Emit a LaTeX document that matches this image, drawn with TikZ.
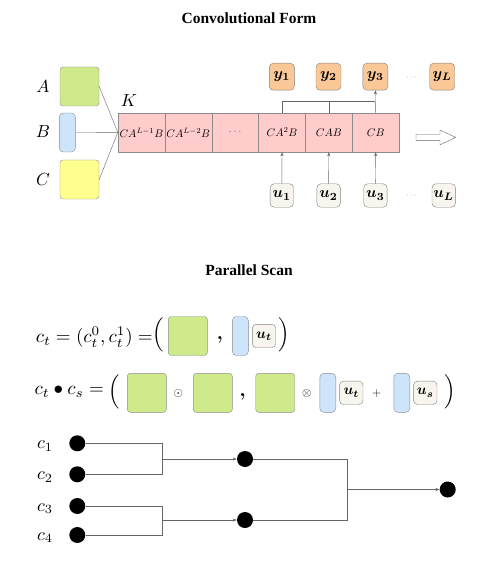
\RequirePackage{fix-cm}
\documentclass[tikz,border=0pt]{standalone}
\usepackage{amsmath}
\usepackage{fontspec}
\newfontfamily\headfont{Liberation Serif}
\usetikzlibrary{arrows.meta}
\definecolor{matA}{RGB}{207,234,139}
\definecolor{vecB}{RGB}{205,228,250}
\definecolor{matC}{RGB}{255,255,143}
\definecolor{kern}{RGB}{255,204,204}
\definecolor{outy}{RGB}{250,200,150}
\definecolor{inu}{RGB}{247,245,237}
% math at 10pt, enlarged as a picture
\newcommand{\mscale}[2]{\scalebox{#1}{$#2$}}

\begin{document}
\begin{tikzpicture}[x=1pt,y=-1pt,
        >={Stealth[length=4pt,width=3pt]},
        heading/.style={font=\headfont\bfseries\fontsize{15.5}{18}\selectfont},
        sym/.style={font=\fontsize{10}{12}\selectfont},
        eq/.style={font=\fontsize{10}{12}\selectfont, inner sep=0pt},
        op/.style={font=\fontsize{12}{14}\selectfont, inner sep=0pt},
        mat/.style={draw=black!45, fill=matA, rounded corners=3pt,
            minimum width=39pt, minimum height=39pt, inner sep=0pt},
        vec/.style={draw=black!45, fill=vecB, rounded corners=4pt,
            minimum width=16pt, minimum height=39pt, inner sep=0pt},
        cell/.style={draw=black!45, fill=kern, minimum width=46.85pt,
            minimum height=39.3pt, inner sep=0pt, font=\fontsize{10}{12}\selectfont},
        ybox/.style={draw=black!50, fill=outy, rounded corners=4pt,
            minimum width=25pt, minimum height=27pt, inner sep=1pt,
            font=\fontsize{10}{12}\selectfont},
        ubox/.style={draw=black!50, fill=inu, rounded corners=4pt,
            minimum width=23.4pt, minimum height=23.4pt, inner sep=1pt,
            font=\fontsize{10}{12}\selectfont},
        gap/.style={font=\fontsize{8}{10}\selectfont, text=black!50},
        dot/.style={circle, fill=black, minimum size=16pt, inner sep=0pt},
        wire/.style={draw=black!60}]
        \useasboundingbox (0,0) rectangle (498,561);
        %convolutional form
        \node[heading] (head1) at (249,18) {Convolutional Form};
        \node[sym] (labA) at (43,87) {\mscale{1.75}{A}};
        \node[sym] (labB) at (43,132) {\mscale{1.75}{B}};
        \node[sym] (labC) at (43,180) {\mscale{1.75}{C}};
        \node[mat] (boxA) at (79.5,86.5) {};
        \node[vec] (boxB) at (67.3,132.5) {};
        \node[mat, fill=matC] (boxC) at (79.5,179.5) {};
        \node[sym] (labK) at (129,101) {\mscale{1.75}{K}};
        %kernel cells
        \foreach \i/\lab in {1/{CA^{L-1}B},2/{CA^{L-2}B},3/{\textcolor{black!50}{\dots}},
            4/{CA^2B},5/{CAB},6/{CB}}
        \node[cell] (cell\i) at ({118+46.85*(\i-0.5)},132.4) {\mscale{1.1}{\lab}};
        \draw[wire] (boxA.east) -- (cell1.west);
        \draw[wire] (boxB.east) -- (cell1.west);
        \draw[wire] (boxC.east) -- (cell1.west);
        %outputs
        \node[ybox] (y1) at (281.8,76.7) {\mscale{1.55}{\boldsymbol{y_1}}};
        \node[ybox] (y2) at (328.5,76.7) {\mscale{1.55}{\boldsymbol{y_2}}};
        \node[ybox] (y3) at (375.4,76.7) {\mscale{1.55}{\boldsymbol{y_3}}};
        \node[gap] (ydots) at (412,78) {$\cdots$};
        \node[ybox] (yL) at (442.2,76.7) {\mscale{1.55}{\boldsymbol{y_L}}};
        %inputs
        \node[ubox] (u1) at (281.8,195.5) {\mscale{1.55}{\boldsymbol{u_1}}};
        \node[ubox] (u2) at (328.6,195.5) {\mscale{1.55}{\boldsymbol{u_2}}};
        \node[ubox] (u3) at (375.4,195.5) {\mscale{1.55}{\boldsymbol{u_3}}};
        \node[gap] (udots) at (412,196) {$\cdots$};
        \node[ubox] (uL) at (443.7,195.5) {\mscale{1.55}{\boldsymbol{u_L}}};
        \draw[wire,->] (u1.north) -- (cell4.south);
        \draw[wire,->] (u2.north) -- (cell5.south);
        \draw[wire,->] (u3.north) -- (cell6.south);
        \coordinate (join) at (375.4,101.7);
        \draw[wire] (cell4.north) |- (join);
        \draw[wire] (cell5.north) |- (join);
        \draw[wire,->] (cell6.north) -- (y3.south);
        %hollow arrow
        \draw[wire, fill=white] (416,134.3) -- (440,134.3) -- (440,130)
            -- (455.7,137.4) -- (440,144.8) -- (440,140.6) -- (416,140.6) -- cycle;
        %parallel scan
        \node[heading] (head2) at (249,270) {Parallel Scan};
        %first row
        \node[eq, anchor=east] (eq1) at (153,337) {\mscale{1.9}{c_t = (c_t^0, c_t^1) =}};
        \node[eq] (lp1) at (158,335) {\mscale{1.9}{\Big(}};
        \node[mat] (g1) at (187.8,336) {};
        \node[eq] (cm1) at (220,340) {\mscale{1.9}{\boldsymbol{,}}};
        \node[vec] (b1) at (240.3,336) {};
        \node[ubox] (ut1) at (264,336) {\mscale{1.45}{\boldsymbol{u_t}}};
        \node[eq] (rp1) at (284,335) {\mscale{1.9}{\Big)}};
        %second row
        \node[eq, anchor=east] (eq2) at (104,392) {\mscale{1.9}{c_t \bullet c_s =}};
        \node[eq] (lp2) at (114,392) {\mscale{1.9}{\Big(}};
        \node[mat] (g2) at (146.8,392.8) {};
        \node[op] (dot1) at (178.3,393) {$\odot$};
        \node[mat] (g3) at (212.8,392.8) {};
        \node[eq] (cm2) at (242.7,397) {\mscale{1.9}{\boldsymbol{,}}};
        \node[mat] (g4) at (275.2,392.8) {};
        \node[op] (ox1) at (306.7,393) {$\otimes$};
        \node[vec] (b2) at (327.8,392.8) {};
        \node[ubox] (ut2) at (351.3,392.8) {\mscale{1.45}{\boldsymbol{u_t}}};
        \node[op] (pl1) at (376.7,393) {$+$};
        \node[vec] (b3) at (401.8,392.8) {};
        \node[ubox] (us2) at (425.3,392.8) {\mscale{1.45}{\boldsymbol{u_s}}};
        \node[eq] (rp2) at (450,392) {\mscale{1.9}{\Big)}};
        %scan tree
        \foreach \i/\y in {1/443.3,2/474.3,3/506,4/535}{
            \node[dot] (c\i) at (77.3,\y) {};
            \node[sym] (lc\i) at (45,\y+2.5) {\mscale{1.8}{c_\i}};
        }
        \node[dot] (m1) at (245,459) {};
        \node[dot] (m2) at (245,520) {};
        \node[dot] (fin) at (447.7,489.5) {};
        \coordinate (j1) at (161.7,459);
        \coordinate (j2) at (161.7,520);
        \coordinate (j3) at (346.7,489.5);
        \draw[wire] (c1) -| (j1) |- (c2);
        \draw[wire] (c3) -| (j2) |- (c4);
        \draw[wire] (m1) -| (j3) |- (m2);
        \draw[wire,->] (j1) -- (m1);
        \draw[wire,->] (j2) -- (m2);
        \draw[wire,->] (j3) -- (fin);
\end{tikzpicture}
\end{document}
